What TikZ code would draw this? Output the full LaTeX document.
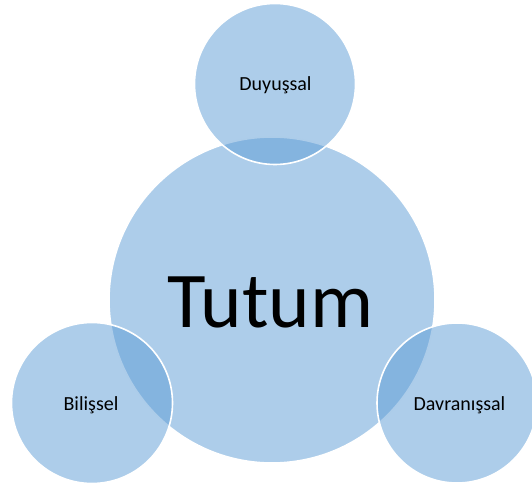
\documentclass[tikz,border=0pt]{standalone}
\usepackage{fontspec}
\setmainfont{Carlito}
\definecolor{accent}{HTML}{5B9BD5}
\begin{document}
\begin{tikzpicture}[x=1pt,y=-1pt,
  blob/.style={circle,fill=accent,fill opacity=0.5,draw=white,line width=1.6pt,inner sep=0pt},
  lbl/.style={font=\fontsize{20}{24}\selectfont,anchor=base,inner sep=0pt},
  big/.style={font=\fontsize{79}{90}\selectfont,anchor=base,inner sep=0pt}]
\useasboundingbox (0,0) rectangle (532,486);
\node[blob,minimum size=326pt] (tutum) at (272,300) {};
\node[blob,minimum size=161pt] (duy) at (275,84) {};
\node[blob,minimum size=161pt] (bil) at (92,403) {};
\node[blob,minimum size=160pt] (dav) at (457,403) {};
\node[big] (tutumlbl) at (270.5,327) {Tutum};
\node[lbl] (duylbl) at (275.5,90.5) {Duyuşsal};
\node[lbl] (billbl) at (91,410) {Bilişsel};
\node[lbl] (davlbl) at (459.5,410) {Davranışsal};
\end{tikzpicture}
\end{document}
